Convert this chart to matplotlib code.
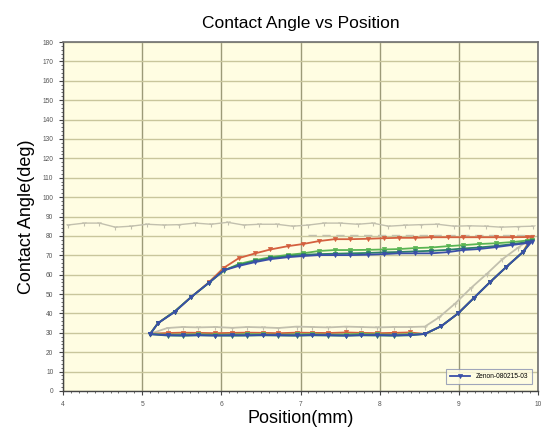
import matplotlib
matplotlib.use("Agg")
import matplotlib.pyplot as plt
from matplotlib.ticker import MultipleLocator

plt.rcParams['font.family'] = ['Liberation Sans', 'DejaVu Sans']

# ---- data ----
up_x = [5.10, 5.20, 5.41, 5.62, 5.84, 6.03, 6.22, 6.43, 6.62, 6.84, 7.03, 7.23, 7.43, 7.63,
        7.85, 8.05, 8.24, 8.44, 8.65, 8.86, 9.05, 9.25, 9.47, 9.67, 9.86, 9.92]
red_up = [29.5, 35, 41, 48.5, 56, 63.5, 68.5, 71, 73, 74.7, 75.8, 77.3, 78.3, 78.3,
          78.5, 78.8, 79, 79, 79.3, 79.3, 79.3, 79.3, 79.3, 79.3, 79.4, 79.5]
green_up = [29.5, 35, 41, 48.5, 55.7, 62, 65.5, 67.5, 69, 70.2, 71, 72.2, 72.7, 72.7,
            72.8, 73, 73.2, 73.7, 74, 74.7, 75.2, 75.8, 76.2, 76.8, 77.6, 78]
blue_up = [29.3, 35, 40.7, 48.5, 55.7, 62.2, 64.5, 66.5, 68, 69, 69.6, 70.1, 70.1, 70.1,
           70.3, 70.6, 71, 71, 71, 71.6, 72.7, 73.2, 74.2, 75.3, 76.3, 77]
teal_up = [29.3, 35, 41, 48.5, 55.7, 62.3, 65, 67, 68.5, 69.5, 70.2, 70.6, 70.8, 71,
           71.2, 71.5, 71.7, 72, 72.3, 72.8, 73.5, 74, 74.8, 75.7, 76.8, 77.5]

down_x = [9.92, 9.81, 9.60, 9.39, 9.19, 8.99, 8.78, 8.57]
col_down = [77, 71.7, 64, 56, 48, 40, 33.5, 29.4]

low_x = [8.57, 8.38, 8.18, 7.97, 7.76, 7.57, 7.35, 7.15, 6.95, 6.72, 6.53, 6.33,
         6.14, 5.92, 5.71, 5.51, 5.32, 5.10]
red_low = [30.0, 30.2, 30.0, 29.8, 30.0, 30.2, 29.9, 30.0, 30.1, 29.8, 30.0, 30.1,
           30.0, 29.8, 30.0, 30.1, 29.9, 29.5]
green_low = [29.2, 29.3, 29.0, 29.2, 29.4, 29.1, 29.0, 29.3, 29.2, 29.0, 29.2, 29.3,
             29.1, 29.0, 29.2, 29.1, 29.0, 29.5]
blue_low = [28.8, 28.9, 28.7, 28.9, 28.8, 28.6, 28.8, 28.9, 28.7, 28.8, 28.9, 28.7,
            28.8, 28.6, 28.8, 28.7, 28.8, 29.3]
teal_low = [28.6, 28.7, 28.5, 28.6, 28.7, 28.5, 28.6, 28.7, 28.5, 28.6, 28.7, 28.6,
            28.5, 28.6, 28.7, 28.5, 28.6, 29.3]

gray_loop_x = [5.10, 5.32, 5.51, 5.71, 5.92, 6.14, 6.33, 6.53, 6.72, 6.95, 7.15, 7.35,
               7.57, 7.76, 7.97, 8.18, 8.38, 8.57, 8.75, 8.95, 9.15, 9.35, 9.55, 9.75, 9.92]
gray_loop_y = [29.5, 32.5, 33, 32.8, 33, 32.6, 33, 32.8, 32.5, 33.2, 33, 32.8,
               33.2, 33, 32.8, 33, 33, 33.2, 38, 45, 53, 60.3, 68, 74, 79]

gray_top_x = [4.06, 4.27, 4.46, 4.66, 4.86, 5.06, 5.27, 5.47, 5.67, 5.87, 6.08, 6.28,
              6.48, 6.70, 6.90, 7.10, 7.30, 7.50, 7.72, 7.91, 8.11, 8.32, 8.52, 8.73,
              8.94, 9.13, 9.34, 9.53, 9.75, 9.94]
gray_top_y = [85.6, 86.6, 86.6, 84.5, 85.0, 86.0, 85.6, 85.8, 86.6, 86.0, 87.0, 85.6,
              86.0, 86.0, 85.0, 85.6, 86.6, 86.6, 86.0, 86.6, 85.0, 85.5, 85.8, 86.0,
              85.0, 85.2, 85.0, 84.5, 84.8, 85.0]

dash_x = [7.10, 9.95]
dash_y = [80.5, 80.5]

x_ticks = [4, 5, 6, 7, 8, 9, 10]
y_ticks = list(range(0, 181, 10))
legend_label = "Zenon-080215-03"

# ---- figure ----
fig = plt.figure(figsize=(5.49, 4.34), dpi=100)
ax = fig.add_axes([0.1148, 0.0991, 0.8652, 0.8041])
ax.set_facecolor("#fffde2")

ax.set_xlim(4, 10)
ax.set_ylim(0, 180)
ax.set_xticks(x_ticks)
ax.set_yticks(y_ticks)
ax.xaxis.set_minor_locator(MultipleLocator(0.1))
ax.yaxis.set_minor_locator(MultipleLocator(2))
ax.grid(True, which="major", axis="y", color="#c9c69c", lw=1.0)
ax.grid(True, which="major", axis="x", color="#9c9a78", lw=1.0)
ax.set_axisbelow(True)
ax.tick_params(which="major", length=3, width=0.8, labelsize=4.8, labelcolor="#555555",
               color="#444444", pad=4)
ax.tick_params(which="minor", length=1.5, width=0.6, color="#555555")
for s in ["left", "bottom"]:
    ax.spines[s].set_color("#444444")
    ax.spines[s].set_linewidth(1.0)
for s in ["top", "right"]:
    ax.spines[s].set_color("#707070")
    ax.spines[s].set_linewidth(1.2)

# gray series
ax.plot(gray_top_x, gray_top_y, color="#c2c0ae", lw=1.0, marker="1", ms=4, mew=0.8)
ax.plot(dash_x, dash_y, color="#c2c0ae", lw=1.0, ls=(0, (6, 4)))
ax.plot(gray_loop_x, gray_loop_y, color="#c2c0ae", lw=1.3, marker="1", ms=4, mew=0.8)

def loop(up, low):
    xs = up_x + down_x[1:] + low_x[1:]
    ys = up + col_down[1:] + low[1:]
    return xs, ys

series = [
    (red_up, red_low, "#d4603e"),
    (green_up, green_low, "#5ab552"),
    (teal_up, teal_low, "#2c7f6a"),
    (blue_up, blue_low, "#3a4fa8"),
]
for up, low, c in series:
    xs, ys = loop(up, low)
    ax.plot(xs, ys, color=c, lw=1.3, marker="v", ms=3, mew=0.5)

ax.set_title("Contact Angle vs Position", fontsize=12.5, pad=10)
ax.set_xlabel("Position(mm)", fontsize=13, labelpad=2)
ax.set_ylabel("Contact Angle(deg)", fontsize=13, labelpad=5)

leg = ax.legend([ax.lines[-1]], [legend_label], loc="lower right", fontsize=4.8,
                frameon=True, fancybox=False, borderpad=0.6, handlelength=3,
                bbox_to_anchor=(0.995, 0.01))
leg.get_frame().set_edgecolor("#8890b0")
leg.get_frame().set_linewidth(0.8)
leg.get_frame().set_facecolor("#fffde2")

fig.savefig("out.png", dpi=100)
